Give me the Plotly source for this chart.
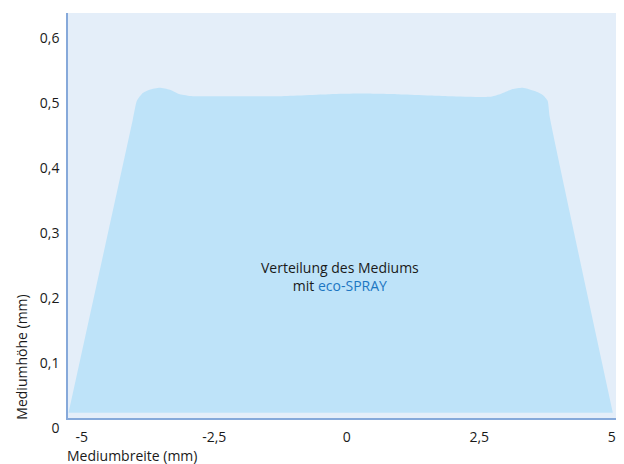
import plotly.graph_objects as go

# profile of the medium (x in mm, y in mm)
profile_x = [-5.25, -4.04, -3.96, -3.85, -3.72, -3.53, -3.34, -3.15, -2.91, -2.21, -1.26,
             -0.32, 0.25, 0.94, 1.94, 2.70, 2.89, 3.13, 3.32, 3.58, 3.70, 3.79, 3.83, 5.02]
profile_y = [0.008, 0.458, 0.488, 0.500, 0.505, 0.508, 0.505, 0.498, 0.495, 0.495, 0.495,
             0.498, 0.499, 0.498, 0.495, 0.494, 0.498, 0.506, 0.508, 0.502, 0.497, 0.488, 0.463, 0.008]

x_ticks = [-5, -2.5, 0, 2.5, 5]
x_tick_labels = ["-5", "-2,5", "0", "2,5", "5"]
y_ticks = [0, 0.1, 0.2, 0.3, 0.4, 0.5, 0.6]
y_tick_labels = ["0", "0,1", "0,2", "0,3", "0,4", "0,5", "0,6"]

FONT = "Open Sans"
FS = 14

fig = go.Figure()
fig.add_trace(go.Scatter(
    x=profile_x, y=profile_y, mode="lines", line=dict(width=0, shape="spline", smoothing=0.5),
    fill="toself", fillcolor="#BEE3F9", hoverinfo="skip", showlegend=False))

fig.update_layout(
    width=624, height=464,
    margin=dict(l=68, r=8, t=13, b=46),
    paper_bgcolor="white", plot_bgcolor="#E4EEF9",
    font=dict(family=FONT, size=FS, color="#1a1a1a"),
    xaxis=dict(range=[-5.26, 5.08], tickvals=x_ticks, ticktext=x_tick_labels,
               showgrid=False, zeroline=False, showline=True, linecolor="#86A9DA", linewidth=1.5,
               ticks="", ticklabelstandoff=5, fixedrange=True),
    yaxis=dict(range=[0, 0.623], tickvals=y_ticks, ticktext=y_tick_labels,
               showgrid=False, zeroline=False, showline=True, linecolor="#86A9DA", linewidth=1.5,
               ticks="", ticklabelshift=10, ticklabelstandoff=4, fixedrange=True),
    annotations=[
        dict(text="Verteilung des Mediums<br>mit <span style='color:#1C76C2'>eco-SPRAY</span>",
             x=-0.12, y=0.218, xref="x", yref="y", showarrow=False, align="center",
             font=dict(family=FONT, size=FS, color="#1a1a1a")),
        dict(text="Mediumbreite (mm)", x=0, xshift=-3, y=-0.093, xref="paper", yref="paper",
             xanchor="left", yanchor="middle", showarrow=False, font=dict(family=FONT, size=FS)),
        dict(text="Mediumhöhe (mm)", x=-0.085, y=0.15, xref="paper", yref="paper",
             xanchor="center", yanchor="middle", textangle=-90, showarrow=False,
             font=dict(family=FONT, size=FS)),
    ],
)

fig.write_html("out.html", post_script="document.body.style.margin='0';",
               config={"displayModeBar": False})
